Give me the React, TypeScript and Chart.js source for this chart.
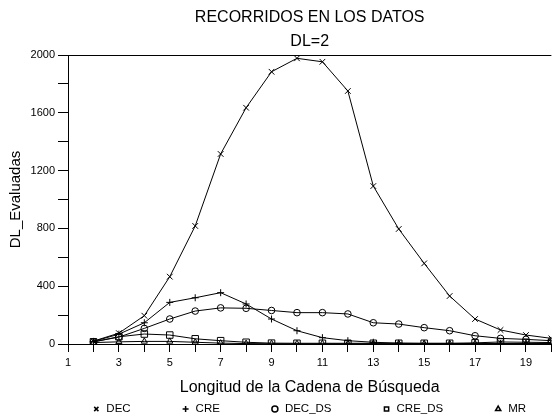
import React, { useEffect, useRef } from 'react';
import { Chart, registerables } from 'chart.js';
import { drawPoint } from 'chart.js/helpers';

Chart.register(...registerables);

const titleLines = ['RECORRIDOS EN LOS DATOS', 'DL=2'];
const xTitle = 'Longitud de la Cadena de Búsqueda';
const yTitle = 'DL_Evaluadas';

const xValues = [2, 3, 4, 5, 6, 7, 8, 9, 10, 11, 12, 13, 14, 15, 16, 17, 18, 19, 20];
const decValues = [20, 75, 196, 466, 817, 1315, 1635, 1884, 1977, 1953, 1751, 1093, 796, 558, 332, 173, 97, 62, 39];
const creValues = [18, 68, 147, 288, 320, 355, 277, 173, 92, 44, 23, 12, 6, 4, 4, 3, 3, 3, 3];
const decDsValues = [15, 48, 108, 173, 228, 250, 247, 232, 217, 217, 208, 147, 138, 113, 92, 57, 39, 32, 23];
const creDsValues = [15, 50, 69, 62, 36, 23, 12, 6, 5, 5, 5, 5, 5, 5, 5, 8, 14, 12, 10];
const mrValues = [10, 15, 18, 18, 12, 6, 3, 2, 2, 2, 2, 2, 2, 2, 2, 2, 2, 2, 2];

const seriesNames = ['DEC', 'CRE', 'DEC_DS', 'CRE_DS', 'MR'];
const seriesValues = [decValues, creValues, decDsValues, creDsValues, mrValues];
const seriesStyles = ['crossRot', 'cross', 'circle', 'rect', 'triangle'];
const seriesRadius = [4, 3.5, 3.3, 4.6, 3.5];

const FONT = "Arial, 'Liberation Sans', sans-serif";

const legendPlugin = {
  id: 'bottomLegend',
  afterDraw(chart: any) {
    const ctx = chart.ctx as CanvasRenderingContext2D;
    ctx.save();
    ctx.font = `11.5px ${FONT}`;
    ctx.textBaseline = 'middle';
    ctx.textAlign = 'left';
    const markerW = 13;
    const gap = 52;
    const items = chart.data.datasets.map((ds: any) => ({
      label: ds.label,
      style: ds.pointStyle,
      w: ctx.measureText(ds.label).width,
    }));
    const total = items.reduce((s: number, it: any) => s + markerW + it.w, 0) + gap * (items.length - 1);
    let x = (chart.chartArea.left + chart.chartArea.right) / 2 - total / 2;
    const y = chart.height - 10;
    items.forEach((it: any) => {
      ctx.strokeStyle = '#000';
      ctx.fillStyle = 'rgba(0,0,0,0)';
      ctx.lineWidth = 1.5;
      drawPoint(ctx, { pointStyle: it.style, radius: 3, rotation: 0, borderWidth: 1.5 } as any, x + 3, y);
      ctx.fillStyle = '#000';
      ctx.fillText(it.label, x + markerW, y);
      x += markerW + it.w + gap;
    });
    ctx.restore();
  },
};

export default function App() {
  const ref = useRef<HTMLCanvasElement | null>(null);

  useEffect(() => {
    if (!ref.current) return;
    const datasets = seriesNames.map((name, i) => ({
      label: name,
      data: xValues.map((x, j) => ({ x, y: seriesValues[i][j] })),
      borderColor: '#000',
      backgroundColor: 'rgba(0,0,0,0)',
      borderWidth: 1,
      pointStyle: seriesStyles[i],
      pointRadius: seriesRadius[i],
      pointBorderWidth: 1,
      pointBorderColor: '#000',
      pointBackgroundColor: 'rgba(0,0,0,0)',
      tension: 0,
      fill: false,
    }));

    const chart = new Chart(ref.current, {
      type: 'line',
      data: { datasets },
      plugins: [legendPlugin],
      options: {
        animation: false,
        responsive: false,
        maintainAspectRatio: false,
        devicePixelRatio: 1,
        layout: { padding: { left: 0, right: 0, top: 0, bottom: 22 } },
        plugins: {
          legend: { display: false },
          tooltip: { enabled: false },
          title: {
            display: true,
            text: titleLines,
            color: '#000',
            fullSize: false,
            font: { family: FONT, size: 16, weight: 'normal', lineHeight: 1.5 },
            padding: { top: 6, bottom: 1 },
          },
        },
        scales: {
          x: {
            type: 'linear',
            min: 1,
            max: 20,
            afterFit: (s: any) => { s.height = 53; },
            ticks: {
              stepSize: 1,
              autoSkip: false,
              maxRotation: 0,
              color: '#000',
              padding: 4,
              font: { family: FONT, size: 11 },
              callback: (v: any) => (Number(v) % 2 === 1 ? String(v) : ''),
            },
            grid: { drawOnChartArea: false, tickLength: 8, color: '#000', tickColor: '#000' },
            border: { display: true, color: '#000', width: 1 },
            title: {
              display: true,
              text: xTitle,
              color: '#000',
              font: { family: FONT, size: 16, weight: 'normal', lineHeight: 1.2 },
              padding: { top: 0, bottom: 0 },
            },
          },
          y: {
            type: 'linear',
            min: 0,
            max: 2000,
            afterFit: (s: any) => { s.width = 68; },
            ticks: {
              stepSize: 200,
              autoSkip: false,
              color: '#000',
              padding: 3,
              font: { family: FONT, size: 11 },
              callback: (v: any) => (Number(v) % 400 === 0 ? String(v) : ''),
            },
            grid: {
              drawOnChartArea: true,
              tickLength: 10,
              color: (c: any) => (c.tick && c.tick.value === 2000 ? '#000' : 'rgba(0,0,0,0)'),
              tickColor: '#000',
            },
            border: { display: true, color: '#000', width: 1 },
            title: {
              display: true,
              text: yTitle,
              color: '#000',
              font: { family: FONT, size: 15, weight: 'normal', lineHeight: 1.2 },
              padding: { top: 7, bottom: 0 },
            },
          },
        },
      },
    });
    return () => chart.destroy();
  }, []);

  return (
    <div style={{ position: 'absolute', left: 0, top: 0, width: 557, height: 419, background: '#fff' }}>
      <canvas ref={ref} width={557} height={419} style={{ display: 'block' }} />
    </div>
  );
}
